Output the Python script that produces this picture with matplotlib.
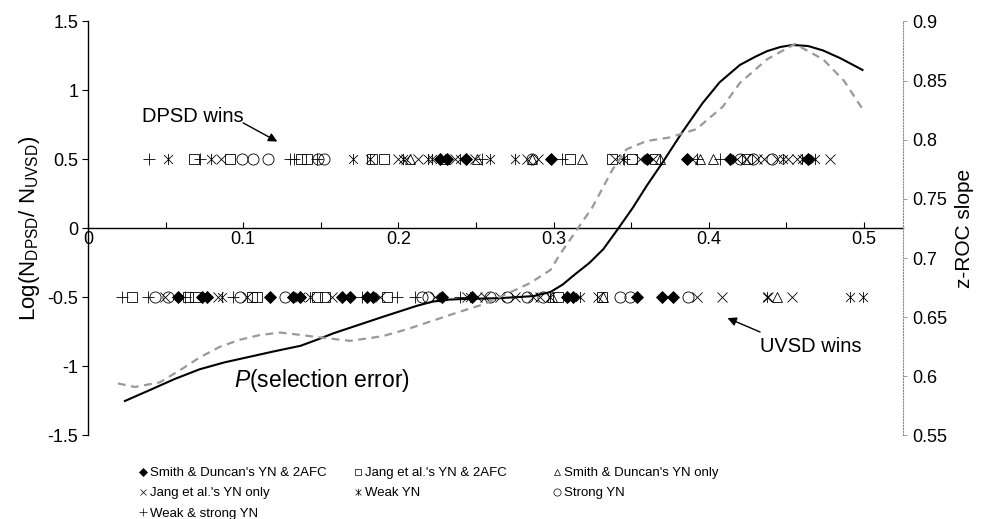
import numpy as np
import matplotlib
matplotlib.use("Agg")
import matplotlib.pyplot as plt
from matplotlib.path import Path
from matplotlib.lines import Line2D

plt.rcParams['font.family'] = ['Liberation Sans', 'DejaVu Sans']
plt.rcParams['axes.unicode_minus'] = False
plt.rcParams['mathtext.fontset'] = 'custom'
plt.rcParams['mathtext.rm'] = 'Liberation Sans'
plt.rcParams['mathtext.it'] = 'Liberation Sans:italic'

# ---- data ----
# markers on the "DPSD wins" row (y = 0.5)
up_sd_both = [0.2268, 0.231, 0.2436, 0.2983, 0.3602, 0.386, 0.4137, 0.464]
up_jang_both = [0.068, 0.0915, 0.137, 0.141, 0.183, 0.191, 0.3106, 0.3376,
                0.3505, 0.3653, 0.4246]
up_sd_yn = [0.2075, 0.230, 0.2506, 0.286, 0.3183, 0.3686, 0.3943, 0.4027]
up_jang_yn = [0.086, 0.200, 0.205, 0.2126, 0.2365, 0.2494, 0.2829, 0.290,
              0.3396, 0.3557, 0.364, 0.389, 0.4182, 0.424, 0.431, 0.4356,
              0.4439, 0.451, 0.4568, 0.462, 0.478]
up_weak = [0.0516, 0.079, 0.171, 0.182, 0.203, 0.219, 0.2216, 0.2397, 0.259,
           0.275, 0.3447, 0.4478, 0.46, 0.4684]
up_strong = [0.099, 0.106, 0.116, 0.148, 0.152, 0.286, 0.420, 0.4285, 0.4407]
up_both = [0.0395, 0.072, 0.130, 0.133, 0.1475, 0.2539, 0.3054, 0.3453,
           0.3924, 0.4072]

# markers on the "UVSD wins" row (y = -0.5)
lo_sd_both = [0.058, 0.0735, 0.0767, 0.1173, 0.1321, 0.1366, 0.1637, 0.1688,
              0.1798, 0.1836, 0.2281, 0.2474, 0.3086, 0.3125, 0.3537, 0.3698,
              0.3769]
lo_jang_both = [0.0283, 0.0644, 0.0689, 0.1057, 0.1089, 0.1476, 0.1527,
                0.1927, 0.3028, 0.331]
lo_sd_yn = [0.2987, 0.3318, 0.4439]
lo_jang_yn = [0.0496, 0.0838, 0.1024, 0.1366, 0.157, 0.1881, 0.2236, 0.2442,
              0.2506, 0.2558, 0.2655, 0.2751, 0.2867, 0.2912, 0.3286, 0.3924,
              0.4085, 0.4382, 0.4536]
lo_weak = [0.0863, 0.143, 0.2461, 0.2977, 0.317, 0.4375, 0.491, 0.4994]
lo_strong = [0.0432, 0.0515, 0.0979, 0.1269, 0.2152, 0.219, 0.259, 0.27,
             0.2829, 0.2932, 0.3428, 0.3492, 0.3866]
lo_both = [0.0219, 0.0387, 0.0625, 0.0934, 0.1765, 0.1991, 0.2107, 0.2397]

# solid curve (left axis)
ratio_x = [0.0238, 0.040, 0.056, 0.072, 0.088, 0.104, 0.120, 0.137, 0.149,
           0.158, 0.174, 0.190, 0.212, 0.222, 0.233, 0.244, 0.265, 0.287,
           0.298, 0.306, 0.314, 0.323, 0.332, 0.341, 0.351, 0.360, 0.370,
           0.383, 0.396, 0.407, 0.420, 0.430, 0.4375, 0.446, 0.454, 0.464,
           0.4736, 0.4845, 0.499]
ratio_y = [-1.25, -1.17, -1.09, -1.02, -0.97, -0.93, -0.89, -0.85, -0.80,
           -0.76, -0.70, -0.64, -0.56, -0.53, -0.515, -0.51, -0.505, -0.49,
           -0.46, -0.405, -0.33, -0.25, -0.15, -0.01, 0.15, 0.31, 0.475,
           0.70, 0.909, 1.06, 1.185, 1.245, 1.285, 1.315, 1.330, 1.322,
           1.290, 1.235, 1.149]

# dashed curve (right axis, z-ROC slope)
slope_x = [0.0193, 0.0303, 0.0464, 0.059, 0.072, 0.085, 0.098, 0.111, 0.124,
           0.137, 0.149, 0.169, 0.190, 0.206, 0.222, 0.238, 0.255, 0.277,
           0.285, 0.298, 0.304, 0.314, 0.325, 0.338, 0.347, 0.360, 0.375,
           0.392, 0.409, 0.420, 0.4375, 0.4555, 0.4736, 0.487, 0.499]
slope_y = [0.594, 0.591, 0.595, 0.605, 0.616, 0.625, 0.631, 0.635, 0.637,
           0.635, 0.633, 0.630, 0.634, 0.640, 0.647, 0.654, 0.661, 0.674,
           0.679, 0.690, 0.703, 0.722, 0.743, 0.775, 0.792, 0.799, 0.802,
           0.809, 0.828, 0.848, 0.868, 0.881, 0.868, 0.850, 0.826]

labels = ["Smith & Duncan's YN & 2AFC", "Jang et al.'s YN & 2AFC",
          "Smith & Duncan's YN only", "Jang et al.'s YN only",
          "Weak YN", "Strong YN", "Weak & strong YN"]

# x with a vertical bar, like the spreadsheet "star" marker
star = Path([(0, -1), (0, 1), (-0.8, -0.8), (0.8, 0.8), (-0.8, 0.8), (0.8, -0.8)],
            [Path.MOVETO, Path.LINETO, Path.MOVETO, Path.LINETO, Path.MOVETO, Path.LINETO])

styles = [
    dict(marker='D', ms=6.0, mfc='black', mec='black'),
    dict(marker='s', ms=7.0, mfc='none', mec='black'),
    dict(marker='^', ms=7.5, mfc='none', mec='black'),
    dict(marker='x', ms=7.0, mec='black'),
    dict(marker=star, ms=8.0, mec='black'),
    dict(marker='o', ms=8.0, mfc='none', mec='black'),
    dict(marker='+', ms=8.0, mec='black'),
]
upper = [up_sd_both, up_jang_both, up_sd_yn, up_jang_yn, up_weak, up_strong, up_both]
lower = [lo_sd_both, lo_jang_both, lo_sd_yn, lo_jang_yn, lo_weak, lo_strong, lo_both]

fig = plt.figure(figsize=(9.84, 5.19), dpi=100)
ax = fig.add_axes([0.0894, 0.1609, 0.8283, 0.7977])
ax2 = ax.twinx()

handles = []
for xs_up, xs_lo, st, lab in zip(upper, lower, styles, labels):
    ax.plot(xs_up, [0.5] * len(xs_up), ls='none', mew=0.6, **st)
    ax.plot(xs_lo, [-0.5] * len(xs_lo), ls='none', mew=0.6, **st)
    hst = dict(st)
    hst['ms'] = st['ms'] * 0.65
    handles.append(Line2D([], [], ls='none', mew=0.5, label=lab, **hst))

ax.plot(ratio_x, ratio_y, color='black', lw=1.5, zorder=5)
ax2.plot(slope_x, slope_y, color='#999999', lw=1.6, dashes=(3.5, 2.5), zorder=5)

ax.set_xlim(0, 0.5251)
ax.set_ylim(-1.5, 1.5)
ax2.set_ylim(0.55, 0.9)

ax.spines['top'].set_visible(False)
ax.spines['right'].set_visible(False)
ax.spines['bottom'].set_position(('data', 0))
ax.spines['bottom'].set_linewidth(1.0)
ax.spines['left'].set_linewidth(1.0)
for s in ['top', 'left', 'bottom']:
    ax2.spines[s].set_visible(False)
ax2.spines['right'].set_linestyle(':')
ax2.spines['right'].set_color('#888888')
ax2.spines['right'].set_linewidth(0.8)

ax.set_xticks([0, 0.1, 0.2, 0.3, 0.4, 0.5])
ax.set_xticklabels(['0', '0.1', '0.2', '0.3', '0.4', '0.5'])
ax.set_xticks([0.05, 0.15, 0.25, 0.35, 0.45], minor=True)
ax.tick_params(axis='x', which='both', direction='in', length=4, width=0.8,
               labelsize=13, pad=2)
ax.set_yticks([-1.5, -1, -0.5, 0, 0.5, 1, 1.5])
ax.set_yticklabels(['-1.5', '-1', '-0.5', '0', '0.5', '1', '1.5'])
ax.tick_params(axis='y', direction='out', length=4, width=0.8, labelsize=13, pad=3)
ax2.set_yticks([0.55, 0.6, 0.65, 0.7, 0.75, 0.8, 0.85, 0.9])
ax2.set_yticklabels(['0.55', '0.6', '0.65', '0.7', '0.75', '0.8', '0.85', '0.9'])
ax2.tick_params(axis='y', direction='out', length=3, width=0.6, color='#888888',
                labelsize=13, pad=4)

ax.set_ylabel(r'Log(N$_{\mathrm{DPSD}}$/ N$_{\mathrm{UVSD}}$)', fontsize=16, labelpad=4)
ax2.set_ylabel('z-ROC slope', fontsize=15, labelpad=5)

ax.text(0.151, -1.105, r'$P$(selection error)', fontsize=16.5, ha='center', va='center')

# call-outs: text and arrow drawn separately
arrow = dict(arrowstyle='-|>', color='black', lw=1.0, mutation_scale=13,
             shrinkA=0, shrinkB=0)
ax.text(0.1, 0.745, 'DPSD wins', fontsize=14.5, ha='right', va='bottom')
ax.annotate('', xy=(0.122, 0.63), xytext=(0.1, 0.765), arrowprops=arrow)
ax.text(0.433, -0.785, 'UVSD wins', fontsize=14.5, ha='left', va='top')
ax.annotate('', xy=(0.412, -0.649), xytext=(0.433, -0.75), arrowprops=arrow)

# legend laid out as three columns placed by hand so rows read left to right
col_x = [0.1413, 0.3598, 0.562]
col_items = [[0, 3, 6], [1, 4], [2, 5]]
for cx, items in zip(col_x, col_items):
    leg = fig.legend([handles[i] for i in items], [labels[i] for i in items],
                     loc='upper left', bbox_to_anchor=(cx, 0.1002), frameon=False,
                     fontsize=9.5, handlelength=0.6, handletextpad=0.2,
                     labelspacing=0.6, borderaxespad=0, borderpad=0)

fig.savefig('out.png', dpi=100)
